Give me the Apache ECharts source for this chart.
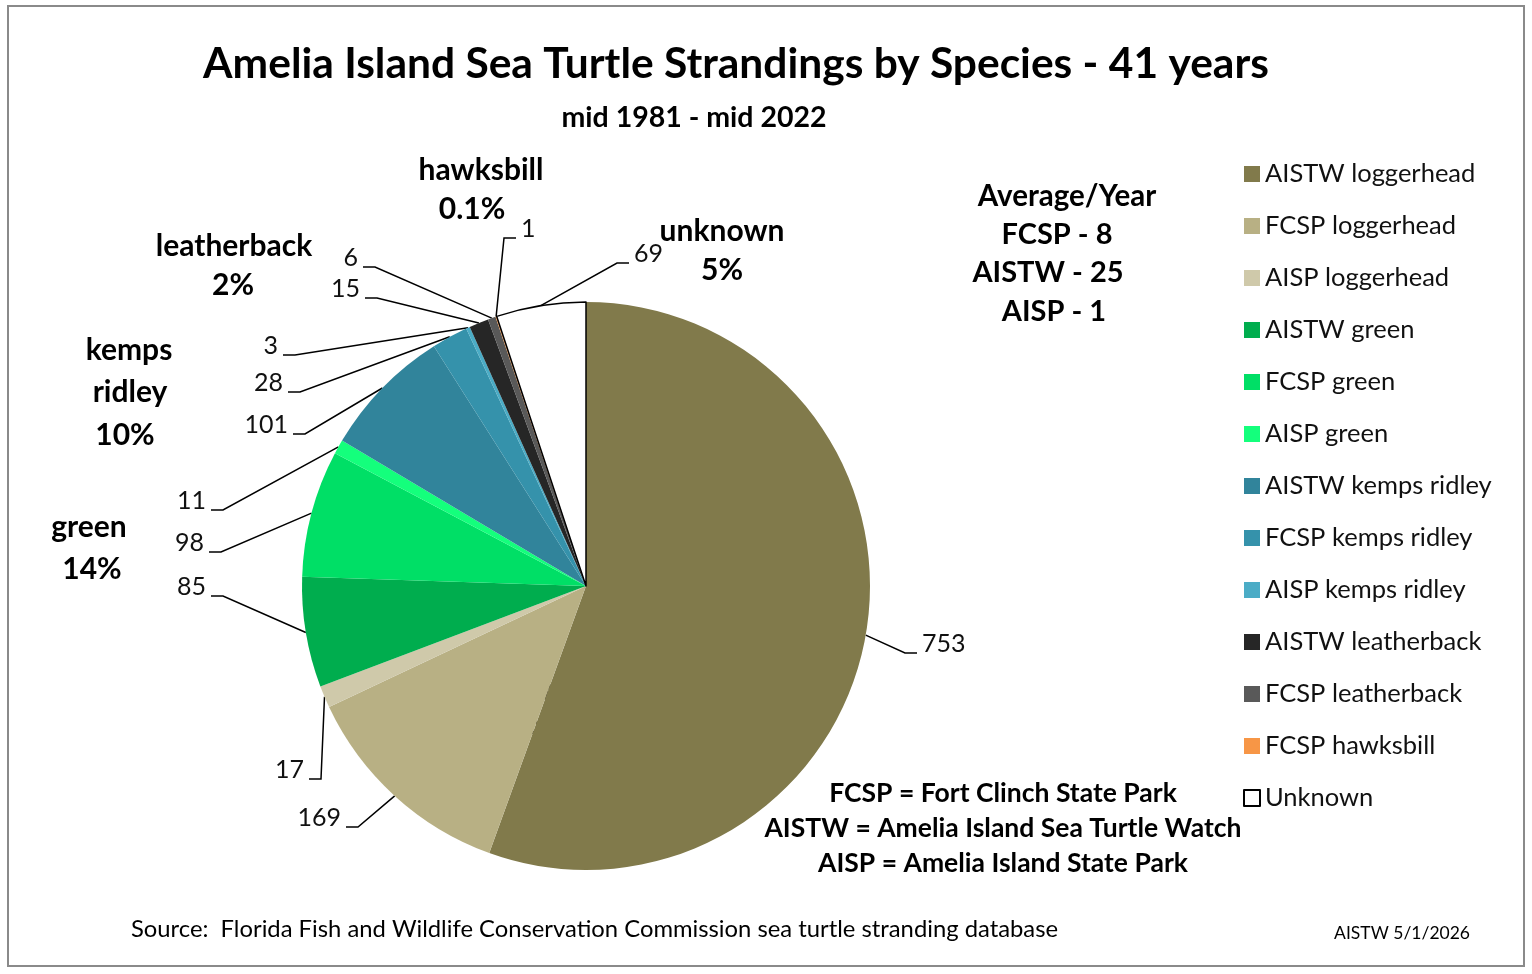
<!DOCTYPE html>
<html>
<head>
<meta http-equiv="Content-Type" content="text/html; charset=utf-8" />
<title>Amelia Island Sea Turtle Strandings</title>
<style type="text/css">
  html {height:100%}
  body {height:100%; margin:0px; padding:0px; background:#fff;}
  #main {width:1532px; height:974px;}
</style>
<script type="text/javascript" src="https://cdn.jsdelivr.net/npm/echarts@6/dist/echarts.min.js"></script>
</head>
<body>
<div id="main"></div>
<script type="text/javascript">
// slices, clockwise from 12 o'clock
var names = ['AISTW loggerhead', 'FCSP loggerhead', 'AISP loggerhead',
             'AISTW green', 'FCSP green', 'AISP green',
             'AISTW kemps ridley', 'FCSP kemps ridley', 'AISP kemps ridley',
             'AISTW leatherback', 'FCSP leatherback', 'FCSP hawksbill', 'Unknown'];
var values = [753, 169, 17, 85, 98, 11, 101, 28, 3, 15, 6, 1, 69];
var species = ['loggerhead', 'loggerhead', 'loggerhead', 'green', 'green', 'green',
               'kemps ridley', 'kemps ridley', 'kemps ridley',
               'leatherback', 'leatherback', 'hawksbill', 'unknown'];
var colors = ['#817A4B', '#B8B084', '#CFC9AA', '#00AD4E', '#00DF66', '#14FF7C',
              '#31849B', '#3592AB', '#4BACC6', '#262626', '#595959', '#F79646', '#FFFFFF'];

// where each value label sits (edge of the text next to its leader line)
var labelAnchor = [[922, 644], [341, 818], [304, 770], [206, 587], [204, 543], [206, 501],
                   [288, 425], [283, 383], [278, 346], [360, 289], [358, 258],
                   [521, 229], [634, 254]];

var FONT = 'Lato, "Open Sans", sans-serif';

var total = 0;
for (var i in values) total += values[i];

// percentage per species, Excel style
function pct(sp) {
  var s = 0;
  for (var i in values) if (species[i] === sp) s += values[i];
  var p = s / total * 100;
  return (p < 1 ? p.toFixed(1) : Math.round(p)) + '%';
}

function txt(text, x, y, size, bold, align) {
  return {
    type: 'text', silent: true,
    style: {
      text: text, x: x, y: y,
      textAlign: align || 'center', textVerticalAlign: 'middle',
      font: (bold ? 'bold ' : '') + size + 'px ' + FONT,
      fill: '#000'
    }
  };
}

var myChart = echarts.init(document.getElementById('main'));

myChart.setOption({
  animation: false,
  textStyle: {fontFamily: FONT},
  legend: {
    orient: 'vertical',
    left: 1238,
    top: 156,
    itemWidth: 16,
    itemHeight: 16,
    itemGap: 26,
    icon: 'rect',
    selectedMode: false,
    data: names,
    textStyle: {fontSize: 25.5, lineHeight: 26, color: '#111', fontFamily: FONT}
  },
  graphic: [
    {type: 'rect', silent: true, shape: {x: 8, y: 6, width: 1516, height: 960},
     style: {fill: 'none', stroke: '#8a8a8a', lineWidth: 2}},
    txt('Amelia Island Sea Turtle Strandings by Species - 41 years', 736, 64, 42.5, true),
    txt('mid 1981 - mid 2022', 694, 118, 28.5, true),
    txt('Average/Year', 1067, 196, 29.5, true),
    txt('FCSP - 8', 1057, 235, 29, true),
    txt('AISTW - 25', 1048, 273, 29, true),
    txt('AISP - 1', 1054, 312, 29, true),
    txt('FCSP = Fort Clinch State Park', 1003, 793, 26.5, true),
    txt('AISTW = Amelia Island Sea Turtle Watch', 1003, 828, 26.5, true),
    txt('AISP = Amelia Island State Park', 1003, 863, 26.5, true),
    txt('Source:  Florida Fish and Wildlife Conservation Commission sea turtle stranding database', 131, 929, 23.8, false, 'left'),
    txt('AISTW 5/1/2026', 1470, 933, 17.5, false, 'right'),
    txt('hawksbill', 481, 170, 30, true),
    txt(pct('hawksbill'), 472, 209, 30, true),
    txt('leatherback', 234, 246, 30, true),
    txt(pct('leatherback'), 233, 285, 30, true),
    txt('kemps', 129, 350, 30, true),
    txt('ridley', 130, 392, 30, true),
    txt(pct('kemps ridley'), 125, 435, 30, true),
    txt('green', 89, 527, 30, true),
    txt(pct('green'), 92, 569, 30, true),
    txt('unknown', 722, 231, 30, true),
    txt(pct('unknown'), 722, 270, 30, true),
    txt('loggerhead', 545, 690, 30, true),
    txt(pct('loggerhead'), 539, 733, 30, true)
  ],
  series: [{
    name: 'strandings',
    type: 'pie',
    center: [586, 586],
    radius: 284,
    startAngle: 90,
    clockwise: true,
    avoidLabelOverlap: false,
    emphasis: {disabled: true},
    label: {
      show: true,
      formatter: '{c}',
      fontSize: 25,
      color: '#111',
      fontFamily: FONT
    },
    labelLine: {
      show: true,
      length: 30,
      length2: 14,
      lineStyle: {color: '#000', width: 1.5}
    },
    labelLayout: function (params) {
      var a = labelAnchor[params.dataIndex];
      var start = params.labelLinePoints[0];
      var onRight = a[0] > start[0];
      var end = onRight ? a[0] - 5 : a[0] + 5;
      var elbow = onRight ? end - 12 : end + 12;
      return {
        x: a[0], y: a[1],
        align: onRight ? 'left' : 'right',
        verticalAlign: 'middle',
        labelLinePoints: [start, [elbow, a[1] + 9], [end, a[1] + 9]]
      };
    },
    data: names.map(function (n, i) {
      var item = {name: n, value: values[i], itemStyle: {color: colors[i]}};
      if (n === 'Unknown') {
        item.itemStyle.borderColor = '#000';
        item.itemStyle.borderWidth = 1.5;
      }
      return item;
    })
  }]
});
</script>
</body>
</html>
